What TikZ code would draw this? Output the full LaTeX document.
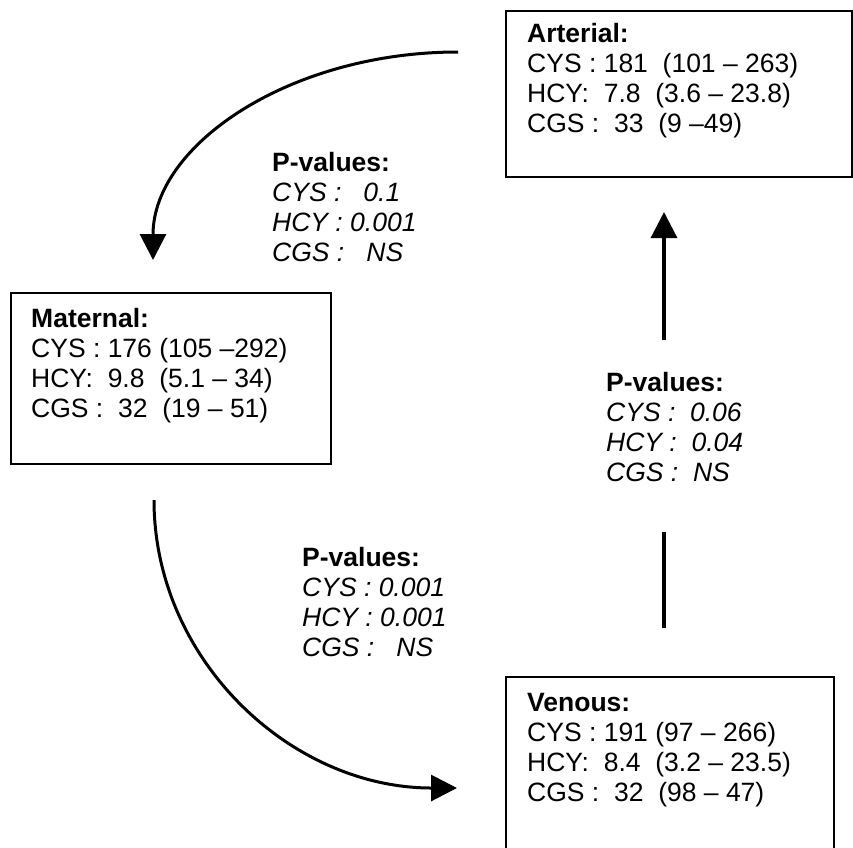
\documentclass[tikz,border=0pt]{standalone}
\usepackage{fontspec}
\setmainfont{Liberation Sans}
\usetikzlibrary{positioning}
\usetikzlibrary{arrows.meta}

\begin{document}
\begin{tikzpicture}[x=1pt, y=-1pt,
    every node/.style={font=\fontsize{26.5}{30}\selectfont},
    box/.style={draw, line width=2.4pt, anchor=north west, inner sep=0pt},
    boxtext/.style={align=left, inner sep=0pt},
    pval/.style={align=left, inner sep=0pt, anchor=north west},
    flow/.style={line width=3pt, -{Triangle[length=26pt, width=26pt]}}]
  \useasboundingbox (0,0) rectangle (853,847);
  \clip (0,0) rectangle (853,847);

  % Boxes
  \node[box, minimum width=346pt, minimum height=166pt] (arterial) at (505,10) {};
  \node[box, minimum width=320pt, minimum height=171pt] (maternal) at (10,292) {};
  \node[box, minimum width=328pt, minimum height=220pt] (venous) at (505,676) {};

  % Box contents
  \node[boxtext, below right=13pt and 22pt of arterial.north west] (arterialtxt)
    {\textbf{Arterial:}\\CYS : 181~~(101 – 263)\\HCY:~~7.8~~(3.6 – 23.8)\\CGS :~~33~~(9 –49)};
  \node[boxtext, below right=16pt and 21pt of maternal.north west] (maternaltxt)
    {\textbf{Maternal:}\\CYS : 176 (105 –292)\\HCY:~~9.8~~(5.1 – 34)\\CGS :~~32~~(19 – 51)};
  \node[boxtext, below right=17pt and 22pt of venous.north west] (venoustxt)
    {\textbf{Venous:}\\CYS : 191 (97 – 266)\\HCY:~~8.4~~(3.2 – 23.5)\\CGS :~~32~~(98 – 47)};

  % P-values
  \node[pval] (partmat) at (272,152)
    {\textbf{P-values:}\\\textit{CYS :~~~0.1}\\\textit{HCY : 0.001}\\\textit{CGS :~~~NS}};
  \node[pval] (pvenart) at (606,372)
    {\textbf{P-values:}\\\textit{CYS :~~0.06}\\\textit{HCY :~~0.04}\\\textit{CGS :~~NS}};
  \node[pval] (pmatven) at (302,547)
    {\textbf{P-values:}\\\textit{CYS : 0.001}\\\textit{HCY : 0.001}\\\textit{CGS :~~~NS}};

  % Arrow ends
  \coordinate (artout) at (458,52);
  \coordinate (matin) at (153,260);
  \coordinate (matout) at (154,500);
  \coordinate (venin) at (457,788);
  \coordinate (venout) at (664,628);
  \coordinate (gapbot) at (664,532);
  \coordinate (gaptop) at (664,340);
  \coordinate (artin) at (664,212);

  % Pfeile
  \draw[flow] (artout) .. controls (290,52) and (153,145) .. (matin);
  \draw[flow] (matout) .. controls (154,659) and (290,788) .. (venin);
  \draw[line width=3.2pt] (venout) -- (gapbot);
  \draw[flow, line width=3.2pt] (gaptop) -- (artin);

\end{tikzpicture}
\end{document}
